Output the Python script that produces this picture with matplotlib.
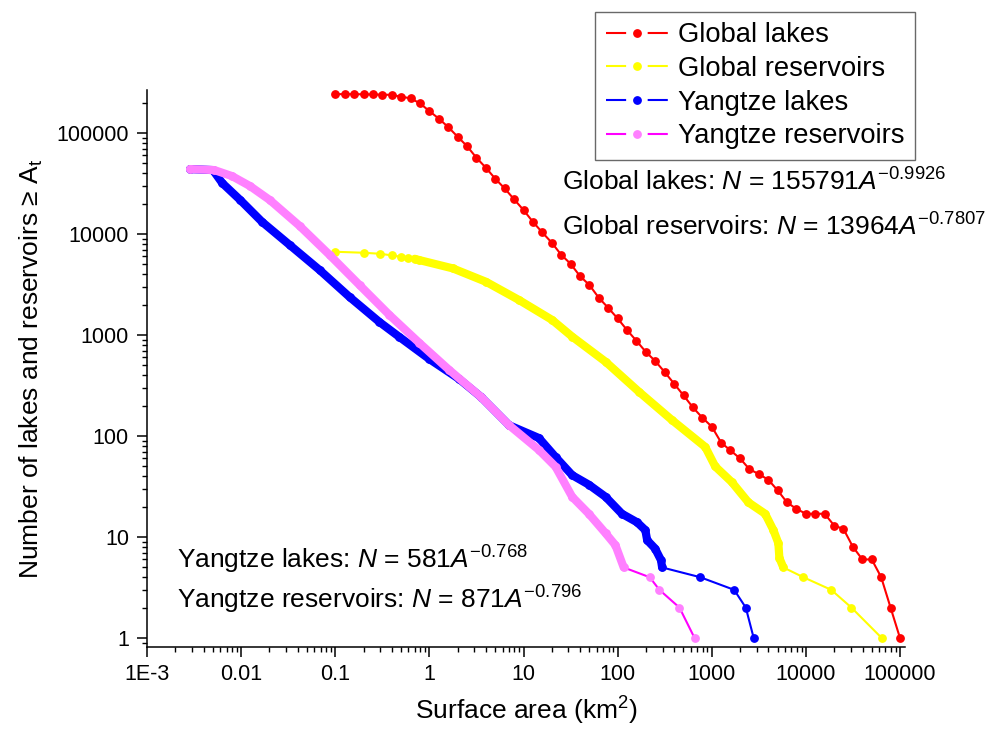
import numpy as np
import matplotlib
matplotlib.use("Agg")
import matplotlib.pyplot as plt
from matplotlib.lines import Line2D
from matplotlib.ticker import LogLocator, NullFormatter

plt.rcParams['font.family'] = ['Liberation Sans', 'DejaVu Sans']
plt.rcParams['mathtext.fontset'] = 'custom'
plt.rcParams['mathtext.rm'] = 'Liberation Sans'
plt.rcParams['mathtext.it'] = 'Liberation Sans:italic'
plt.rcParams['lines.scale_dashes'] = False

# cumulative counts N(A >= At), read per area threshold
global_lakes_area = [0.1, 0.126, 0.158, 0.2, 0.251, 0.316, 0.398, 0.501, 0.631, 0.794,
                     1, 1.26, 1.58, 2, 2.51, 3.16, 3.98, 5.01, 6.31, 7.94,
                     10, 12.6, 15.8, 20, 25.1, 31.6, 39.8, 50.1, 63.1, 79.4,
                     100, 126, 158, 200, 251, 316, 398, 501, 631, 794,
                     1000, 1260, 1580, 2000, 2510, 3160, 3980, 5010, 6310, 7940,
                     10000, 12600, 15800, 20000, 25100, 31600, 39800, 50100, 63100, 79400,
                     100000]
global_lakes_n = [243000, 243000, 243000, 242000, 241000, 240000, 239000, 229000, 221000, 197000,
                  165000, 139000, 115000, 91900, 74300, 57000, 45400, 35300, 28300, 22100,
                  17300, 13200, 10400, 8200, 6250, 5080, 3840, 3130, 2340, 1860,
                  1460, 1120, 879, 679, 553, 430, 330, 253, 192, 152,
                  124, 86, 72, 60, 47, 42, 37, 29, 22, 19,
                  17, 17, 17, 13, 12, 8, 6, 6, 4, 2,
                  1]

global_res_area = [0.1, 0.2, 0.3, 0.4, 0.5, 0.6, 0.7, 0.78, 1.77, 3.99, 8.98, 20.2, 33,
                   74.5, 168, 378, 853, 1088, 1633, 2455, 3690, 4520, 5100, 5230,
                   5760, 9400, 18600, 30500, 64000]
global_res_n = [6680, 6530, 6380, 6150, 5960, 5830, 5690, 5530, 4575, 3370, 2220, 1409, 962,
                544, 275, 144, 78, 50, 35, 22, 17, 11.7, 8.7, 6.2,
                5, 4, 3, 2, 1]

yangtze_lakes_area = [0.00287, 0.00502, 0.0063, 0.0098, 0.0167, 0.0329, 0.0683, 0.142, 0.295,
                      0.481, 1, 2.08, 3.55, 7.03, 14.6, 21.9, 32.9, 49.4, 74.5, 111, 161,
                      197, 206, 250, 289, 297, 755, 1730, 2300, 2790]
yangtze_lakes_n = [44000, 43000, 32000, 21700, 13200, 7780, 4400, 2380, 1345,
                   956, 578, 366, 243, 128, 95.5, 62, 41, 33, 25, 17, 14,
                   11.7, 9.3, 7.7, 5.9, 5, 4, 3, 2, 1]

yangtze_res_area = [0.00287, 0.0052, 0.008, 0.0124, 0.0202, 0.042, 0.0873, 0.181, 0.377,
                    0.784, 1.63, 3.55, 7.03, 14.6, 21.9, 32.9, 49.4, 74.5, 94.8,
                    116, 219, 278, 454, 657]
yangtze_res_n = [44000, 43000, 37500, 29900, 21700, 12000, 6200, 3130, 1578,
                 834, 450, 243, 128, 72.7, 49.7, 25, 17, 10.9, 8.3,
                 5, 4, 3, 2, 1]

labels = ["Global lakes", "Global reservoirs", "Yangtze lakes", "Yangtze reservoirs"]
line_colors = ["#FF0000", "#FFFF00", "#0000FF", "#FF00FF"]
marker_colors = ["#FF0000", "#FFFF00", "#0000FF", "#FF80FF"]
# index range of each series where the points crowd into a solid band
dense = [None, (6, 24), (0, 25), (0, 19)]

series = [(global_lakes_area, global_lakes_n),
          (global_res_area, global_res_n),
          (yangtze_lakes_area, yangtze_lakes_n),
          (yangtze_res_area, yangtze_res_n)]

fig = plt.figure(figsize=(9.9, 7.4), dpi=100)
ax = fig.add_axes([147 / 990, 1 - 647 / 740, 758 / 990, 557 / 740])

ms = 5.3
for (a, n), lc, mc, d in zip(series, line_colors, marker_colors, dense):
    a = np.array(a)
    n = np.array(n)
    ax.plot(a, n, color=lc, lw=1.5, marker='o', ms=ms, mfc=mc, mec=mc, zorder=3)
    if d is not None:
        i0, i1 = d
        ax.plot(a[i0:i1 + 1], n[i0:i1 + 1], color=mc, lw=ms + 0.6,
                solid_capstyle='round', solid_joinstyle='round', zorder=3)

ax.set_xscale('log')
ax.set_yscale('log')
ax.set_xlim(1e-3, 1.13e5)
ax.set_ylim(0.815, 2.67e5)

xt = [1e-3, 1e-2, 1e-1, 1, 10, 100, 1000, 10000, 100000]
xtl = ["1E-3", "0.01", "0.1", "1", "10", "100", "1000", "10000", "100000"]
yt = [1, 10, 100, 1000, 10000, 100000]
ytl = ["1", "10", "100", "1000", "10000", "100000"]
ax.set_xticks(xt, xtl)
ax.set_yticks(yt, ytl)
for axis in (ax.xaxis, ax.yaxis):
    axis.set_minor_locator(LogLocator(base=10, subs=np.arange(2, 10), numticks=20))
    axis.set_minor_formatter(NullFormatter())

ax.tick_params(which='major', direction='out', length=7, width=1.1, labelsize=15.5)
ax.tick_params(axis='x', which='major', pad=5)
ax.tick_params(axis='y', which='major', pad=6)
ax.tick_params(which='minor', direction='out', length=3.6, width=1.0)
for side in ('top', 'right'):
    ax.spines[side].set_visible(False)
for side in ('left', 'bottom'):
    ax.spines[side].set_linewidth(1.1)

ax.set_xlabel("Surface area (km$^{\\mathrm{2}}$)", fontsize=19)
ax.set_ylabel("Number of lakes and reservoirs ≥ A$_{\\mathrm{t}}$", fontsize=19)
ax.xaxis.set_label_coords(0.5, -0.085)
ax.yaxis.set_label_coords(-0.135, 0.5)

fit_texts = [
    ("Global lakes: $\\mathit{N}$ = 155791$\\mathit{A}^{\\mathrm{-0.9926}}$", 562, 182),
    ("Global reservoirs: $\\mathit{N}$ = 13964$\\mathit{A}^{\\mathrm{-0.7807}}$", 562, 227),
    ("Yangtze lakes: $\\mathit{N}$ = 581$\\mathit{A}^{\\mathrm{-0.768}}$", 177, 560),
    ("Yangtze reservoirs: $\\mathit{N}$ = 871$\\mathit{A}^{\\mathrm{-0.796}}$", 177, 600),
]
for txt, px, py in fit_texts:
    fig.text(px / 990, 1 - py / 740, txt, fontsize=19, ha='left', va='center')

handles = [Line2D([], [], color=lc, lw=1.5, ls=(0, (14.5, 15.5)), marker='o', ms=ms,
                  mfc=mc, mec=mc)
           for lc, mc in zip(line_colors, marker_colors)]
leg = fig.legend(handles, labels, loc='upper right', bbox_to_anchor=(915 / 990, 1 - 12 / 740),
                 fontsize=19.7, frameon=True, fancybox=False, shadow=False, numpoints=1,
                 handlelength=2.3, handletextpad=0.35, labelspacing=0.28, borderpad=0.38,
                 borderaxespad=0)
leg.get_frame().set_edgecolor('#444444')
leg.get_frame().set_linewidth(1.0)

fig.savefig("out.png", dpi=100)
